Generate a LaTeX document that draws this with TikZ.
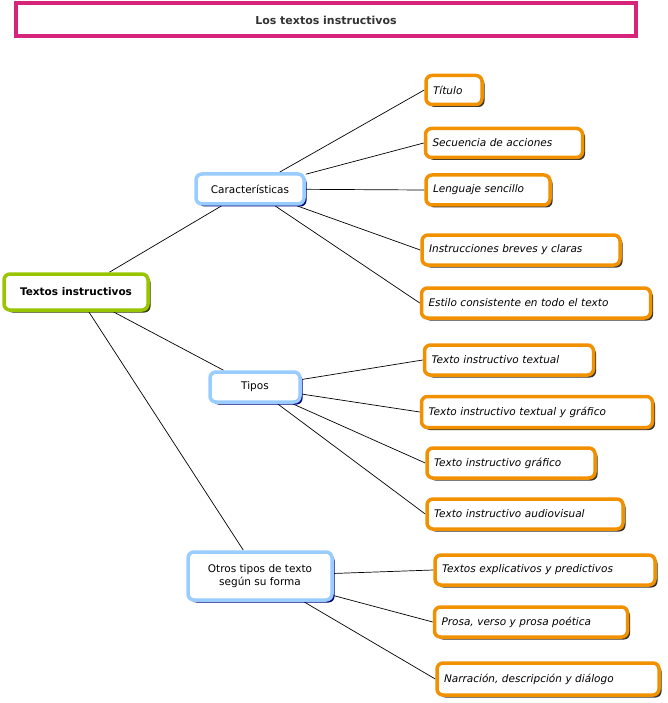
\documentclass[tikz,border=0pt]{standalone}
\usepackage{fontspec}
\setmainfont{DejaVu Sans}
\usetikzlibrary{shadows,backgrounds}
\definecolor{pinkb}{HTML}{D6247A}
\definecolor{greenb}{HTML}{99C400}
\definecolor{blueb}{HTML}{99CCFF}
\definecolor{orangeb}{HTML}{F29100}
\begin{document}
\begin{tikzpicture}[x=1pt,y=-1pt,
 box/.style={draw,line width=3.5pt,rounded corners=6pt,fill=white,font=\fontsize{10.5}{13}\selectfont,inner sep=2pt,align=center},
 root/.style={box,draw=greenb,font=\fontsize{10.5}{13}\selectfont\bfseries,drop shadow={shadow xshift=2.5pt,shadow yshift=-2.5pt,fill=black!70!greenb,opacity=1}},
 mid/.style={box,draw=blueb,drop shadow={shadow xshift=2.5pt,shadow yshift=-2.5pt,fill=blue!50!black,opacity=1}},
 leaf/.style={box,draw=orangeb,font=\fontsize{10.5}{13}\selectfont\itshape,align=left,inner xsep=7pt,drop shadow={shadow xshift=2.5pt,shadow yshift=-2.5pt,fill=black!80,opacity=1}},
 con/.style={draw=black,line width=0.7pt}]
\useasboundingbox (0,0) rectangle (668,703);
\node[draw=pinkb,line width=4pt,minimum width=620,minimum height=33,font=\fontsize{11}{13}\selectfont\bfseries,text=black!80] (title) at (326,20) {Los textos instructivos};
\node[root,minimum width=144,minimum height=36] (r) at (76,292) {Textos instructivos};
\node[mid,minimum width=108,minimum height=30] (c) at (250,189) {Características};
\node[mid,minimum width=90,minimum height=30] (t) at (255,387) {Tipos};
\node[mid,minimum width=144,minimum height=48] (o) at (260,576) {Otros tipos de texto\\según su forma};
\node[leaf,text width=42,minimum height=29] (c1) at (454,90) {Título};
\node[leaf,text width=143,minimum height=29] (c2) at (504,143) {Secuencia de acciones};
\node[leaf,text width=110,minimum height=30] (c3) at (488,190) {Lenguaje sencillo};
\node[leaf,text width=184,minimum height=30] (c4) at (521,250) {Instrucciones breves y claras};
\node[leaf,text width=215,minimum height=30] (c5) at (536,303) {Estilo consistente en todo el texto};
\node[leaf,text width=155,minimum height=30] (t1) at (509,360) {Texto instructivo textual};
\node[leaf,text width=217,minimum height=31] (t2) at (537,412) {Texto instructivo textual y gráfico};
\node[leaf,text width=154,minimum height=30] (t3) at (511,463) {Texto instructivo gráfico};
\node[leaf,text width=182,minimum height=30] (t4) at (525,514) {Texto instructivo audiovisual};
\node[leaf,text width=206,minimum height=30] (o1) at (545,570) {Textos explicativos y predictivos};
\node[leaf,text width=179,minimum height=30] (o2) at (531,622) {Prosa, verso y prosa poética};
\node[leaf,text width=208,minimum height=32] (o3) at (548,679) {Narración, descripción y diálogo};
\begin{scope}[on background layer]
\path[con] (r) -- (c);
\path[con] (r) -- (t);
\path[con] (r) -- (o);
\foreach \n in {c1,c2,c3,c4,c5} \path[con] (c) -- (\n.west);
\foreach \n in {t1,t2,t3,t4} \path[con] (t) -- (\n.west);
\foreach \n in {o1,o2,o3} \path[con] (o) -- (\n.west);
\end{scope}
\end{tikzpicture}
\end{document}
